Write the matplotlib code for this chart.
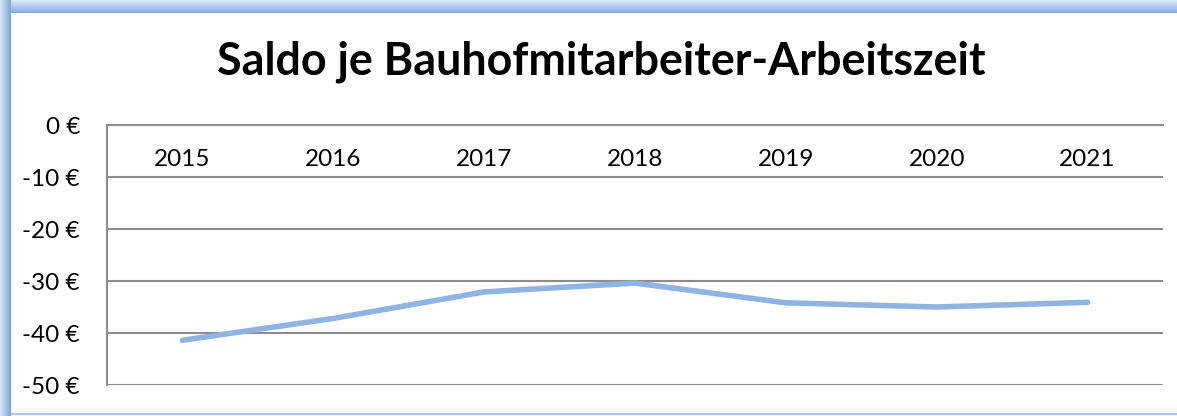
import numpy as np
import matplotlib
matplotlib.use("Agg")
import matplotlib.pyplot as plt

# ---- data ----
years = ["2015", "2016", "2017", "2018", "2019", "2020", "2021"]
saldo = [-41.4, -37.2, -32.1, -30.4, -34.2, -35.0, -34.1]
ytick_values = [0, -10, -20, -30, -40, -50]
title = "Saldo je Bauhofmitarbeiter-Arbeitszeit"

W, H = 1177, 416
plt.rcParams['font.family'] = ['Lato', 'DejaVu Sans']
fig = plt.figure(figsize=(W / 100, H / 100), dpi=100)

# ---- decorative frame (gradient border like Excel shadow) ----
bg = np.ones((H, W, 3))
light = np.array([0.86, 0.91, 0.97])
dark = np.array([0.50, 0.65, 0.86])
left_w, top_h = 11, 13
for i in range(left_w):
    t = i / (left_w - 1)
    bg[:, i] = light * (1 - t) + dark * t
for j in range(top_h):
    t = j / (top_h - 1)
    c = light * (1 - t) + np.array([0.53, 0.68, 0.88]) * t
    bg[j, left_w:] = c
bg[top_h:, left_w] = np.array([0.93, 0.96, 1.0])
bg[H - 3:H - 1, left_w:] = np.array([0.68, 0.78, 0.92])
ax_bg = fig.add_axes([0, 0, 1, 1], zorder=-1)
ax_bg.imshow(bg, extent=[0, W, H, 0], aspect='auto', interpolation='bilinear')
ax_bg.set_axis_off()

# ---- main axes ----
left, right = 107 / W, 1163 / W
top, bottom = 1 - 125 / H, 1 - 385 / H
ax = fig.add_axes([left, bottom, right - left, top - bottom])
ax.patch.set_alpha(0)

x = np.arange(len(years))
ax.plot(x, saldo, color='#8DB4E2', linewidth=4.0, solid_capstyle='round',
        solid_joinstyle='round', zorder=3)

ax.set_xlim(-0.5, len(years) - 0.5)
ax.set_ylim(-50, 0)
ax.set_yticks(ytick_values)
ax.set_yticklabels([f"{v} €" for v in ytick_values], fontsize=17.5)
ax.yaxis.grid(True, color='#8C8C8C', linewidth=1.5)
ax.set_axisbelow(True)

ax.set_xticks(x)
ax.set_xticklabels(years, fontsize=17.5)
ax.tick_params(axis='x', bottom=False, top=False, labelbottom=False,
               labeltop=True, pad=-36)
ax.tick_params(axis='y', left=False, pad=16)

for s in ['right', 'bottom']:
    ax.spines[s].set_visible(False)
ax.spines['left'].set_color('#8C8C8C')
ax.spines['left'].set_linewidth(1.5)
ax.spines['top'].set_color('#8C8C8C')
ax.spines['top'].set_linewidth(1.5)

fig.text(0.511, 0.851, title, ha='center', va='center', fontsize=32.3,
         fontweight='bold', color='black')

fig.savefig("out.png", dpi=100)
